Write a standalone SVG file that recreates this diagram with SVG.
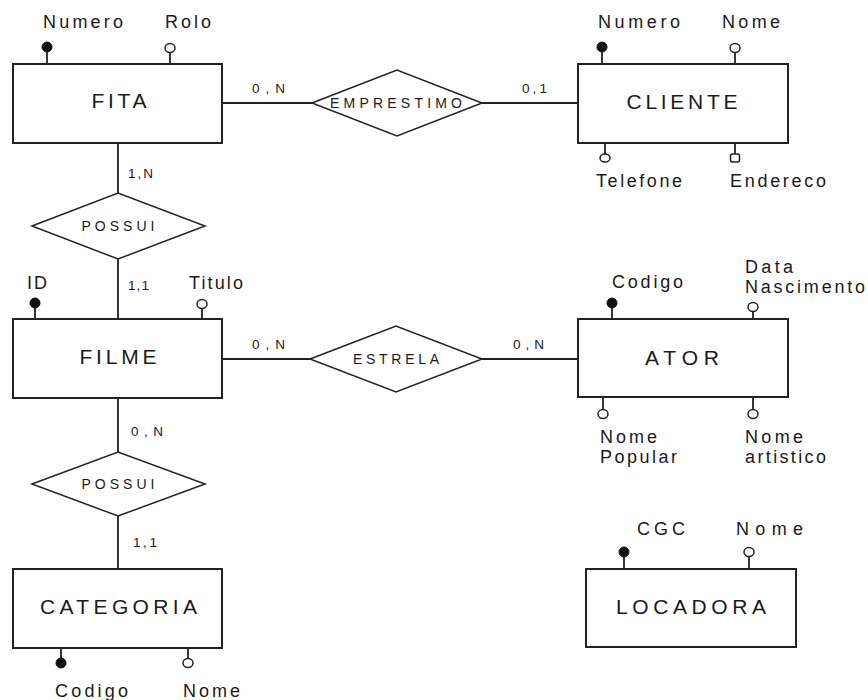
<svg xmlns="http://www.w3.org/2000/svg" width="868" height="700" viewBox="0 0 868 700">
  <style>
    .ent { fill: #fff; stroke: #222; stroke-width: 2; }
    .rel { fill: #fff; stroke: #222; stroke-width: 1.5; }
    .wire { stroke: #222; stroke-width: 1.8; fill: none; }
    .stick { stroke: #222; stroke-width: 1.8; }
    .key { fill: #111; stroke: #111; stroke-width: 1; }
    .opt { fill: #fff; stroke: #222; stroke-width: 1.5; }
    text { font-family: "Liberation Sans", Arial, sans-serif; fill: #1a1a1a; }
    .en { font-size: 21px; text-anchor: middle; }
    .rn { font-size: 14px; text-anchor: middle; }
    .at { font-size: 18px; }
    .cd { font-size: 13.5px; }
  </style>
  <rect width="868" height="700" fill="#fff"/>

  <!-- connectors between entities and relationships -->
  <g id="connectors">
    <line class="wire" x1="222" y1="103" x2="312" y2="103"/>
    <line class="wire" x1="482" y1="103" x2="578" y2="103"/>
    <line class="wire" x1="118" y1="143" x2="118" y2="193"/>
    <line class="wire" x1="118" y1="259" x2="118" y2="319"/>
    <line class="wire" x1="222" y1="359" x2="310" y2="359"/>
    <line class="wire" x1="482" y1="359" x2="578" y2="359"/>
    <line class="wire" x1="118" y1="398" x2="118" y2="452"/>
    <line class="wire" x1="118" y1="516" x2="118" y2="569"/>
    <!-- cardinalities -->
    <text class="cd" x="252" y="93" textLength="33" lengthAdjust="spacing">0,N</text>
    <text class="cd" x="522" y="93" textLength="25" lengthAdjust="spacing">0,1</text>
    <text class="cd" x="128" y="178" textLength="25" lengthAdjust="spacing">1,N</text>
    <text class="cd" x="128" y="290" textLength="21" lengthAdjust="spacing">1,1</text>
    <text class="cd" x="252" y="349" textLength="33" lengthAdjust="spacing">0,N</text>
    <text class="cd" x="513" y="349" textLength="31" lengthAdjust="spacing">0,N</text>
    <text class="cd" x="131" y="436" textLength="32" lengthAdjust="spacing">0,N</text>
    <text class="cd" x="133" y="547" textLength="24" lengthAdjust="spacing">1,1</text>
  </g>

  <!-- FITA -->
  <g id="fita">
    <line class="stick" x1="47" y1="52" x2="47" y2="64"/>
    <circle class="key" cx="47" cy="47" r="5"/>
    <line class="stick" x1="170" y1="53" x2="170" y2="64"/>
    <ellipse class="opt" cx="170" cy="48" rx="5" ry="4.5"/>
    <rect class="ent" x="13" y="64" width="209" height="79"/>
    <text class="en" x="119" y="108" textLength="55" lengthAdjust="spacing">FITA</text>
    <text class="at" x="43" y="28" textLength="80" lengthAdjust="spacing">Numero</text>
    <text class="at" x="165" y="28" textLength="46" lengthAdjust="spacing">Rolo</text>
  </g>

  <!-- EMPRESTIMO -->
  <g id="emprestimo">
    <polygon class="rel" points="312,103 397,70 482,103 397,136"/>
    <text class="rn" x="396" y="108" textLength="132" lengthAdjust="spacing">EMPRESTIMO</text>
  </g>

  <!-- CLIENTE -->
  <g id="cliente">
    <line class="stick" x1="602" y1="52" x2="602" y2="64"/>
    <circle class="key" cx="602" cy="47" r="5"/>
    <line class="stick" x1="735" y1="53" x2="735" y2="64"/>
    <ellipse class="opt" cx="735" cy="48" rx="5" ry="4.5"/>
    <line class="stick" x1="605" y1="143" x2="605" y2="154"/>
    <ellipse class="opt" cx="605" cy="158" rx="5" ry="4"/>
    <line class="stick" x1="735" y1="143" x2="735" y2="154"/>
    <rect class="opt" x="730.5" y="154" width="9" height="8" rx="2"/>
    <rect class="ent" x="578" y="64" width="210" height="79"/>
    <text class="en" x="682" y="109" textLength="111" lengthAdjust="spacing">CLIENTE</text>
    <text class="at" x="598" y="28" textLength="82" lengthAdjust="spacing">Numero</text>
    <text class="at" x="722" y="28" textLength="58" lengthAdjust="spacing">Nome</text>
    <text class="at" x="596" y="187" textLength="86" lengthAdjust="spacing">Telefone</text>
    <text class="at" x="730" y="187" textLength="96" lengthAdjust="spacing">Endereco</text>
  </g>

  <!-- POSSUI (FITA / FILME) -->
  <g id="possui-fita-filme">
    <polygon class="rel" points="32,226 118,193 205,226 118,259"/>
    <text class="rn" x="118" y="231" textLength="73" lengthAdjust="spacing">POSSUI</text>
  </g>

  <!-- FILME -->
  <g id="filme">
    <line class="stick" x1="35" y1="307" x2="35" y2="319"/>
    <circle class="key" cx="35" cy="303" r="5"/>
    <line class="stick" x1="202" y1="308" x2="202" y2="319"/>
    <ellipse class="opt" cx="202" cy="304" rx="5" ry="4.5"/>
    <rect class="ent" x="13" y="319" width="209" height="79"/>
    <text class="en" x="118" y="364" textLength="77" lengthAdjust="spacing">FILME</text>
    <text class="at" x="27" y="289" textLength="20" lengthAdjust="spacing">ID</text>
    <text class="at" x="189" y="289" textLength="54" lengthAdjust="spacing">Titulo</text>
  </g>

  <!-- ESTRELA -->
  <g id="estrela">
    <polygon class="rel" points="310,359 396,326 482,359 396,392"/>
    <text class="rn" x="396" y="364" textLength="86" lengthAdjust="spacing">ESTRELA</text>
  </g>

  <!-- ATOR -->
  <g id="ator">
    <line class="stick" x1="612" y1="307" x2="612" y2="319"/>
    <circle class="key" cx="612" cy="303" r="5"/>
    <line class="stick" x1="753" y1="311" x2="753" y2="321"/>
    <ellipse class="opt" cx="753" cy="307" rx="5" ry="4.5"/>
    <line class="stick" x1="603" y1="397" x2="603" y2="410"/>
    <ellipse class="opt" cx="603" cy="414" rx="5" ry="4.5"/>
    <line class="stick" x1="753" y1="397" x2="753" y2="410"/>
    <ellipse class="opt" cx="753" cy="414" rx="5" ry="4.5"/>
    <rect class="ent" x="578" y="319" width="210" height="78"/>
    <text class="en" x="682" y="365" textLength="74" lengthAdjust="spacing">ATOR</text>
    <text class="at" x="612" y="288" textLength="71" lengthAdjust="spacing">Codigo</text>
    <text class="at" x="745" y="273" textLength="48" lengthAdjust="spacing">Data</text>
    <text class="at" x="745" y="293" textLength="120" lengthAdjust="spacing">Nascimento</text>
    <text class="at" x="600" y="443" textLength="57" lengthAdjust="spacing">Nome</text>
    <text class="at" x="600" y="463" textLength="77" lengthAdjust="spacing">Popular</text>
    <text class="at" x="745" y="443" textLength="58" lengthAdjust="spacing">Nome</text>
    <text class="at" x="745" y="463" textLength="81" lengthAdjust="spacing">artistico</text>
  </g>

  <!-- POSSUI (FILME / CATEGORIA) -->
  <g id="possui-filme-categoria">
    <polygon class="rel" points="32,484 118,452 205,484 118,516"/>
    <text class="rn" x="118" y="489" textLength="73" lengthAdjust="spacing">POSSUI</text>
  </g>

  <!-- CATEGORIA -->
  <g id="categoria">
    <line class="stick" x1="61" y1="648" x2="61" y2="659"/>
    <circle class="key" cx="61" cy="663" r="5"/>
    <line class="stick" x1="188" y1="648" x2="188" y2="659"/>
    <ellipse class="opt" cx="188" cy="663" rx="5" ry="4.5"/>
    <rect class="ent" x="13" y="569" width="209" height="79"/>
    <text class="en" x="118.5" y="614" textLength="157" lengthAdjust="spacing">CATEGORIA</text>
    <text class="at" x="55" y="697" textLength="73" lengthAdjust="spacing">Codigo</text>
    <text class="at" x="183" y="697" textLength="57" lengthAdjust="spacing">Nome</text>
  </g>

  <!-- LOCADORA -->
  <g id="locadora">
    <line class="stick" x1="624" y1="556" x2="624" y2="569"/>
    <circle class="key" cx="624" cy="552" r="5"/>
    <line class="stick" x1="749" y1="557" x2="749" y2="569"/>
    <ellipse class="opt" cx="749" cy="552" rx="5" ry="4.5"/>
    <rect class="ent" x="586" y="569" width="210" height="78"/>
    <text class="en" x="691" y="614" textLength="150" lengthAdjust="spacing">LOCADORA</text>
    <text class="at" x="637" y="535" textLength="48" lengthAdjust="spacing">CGC</text>
    <text class="at" x="736" y="535" textLength="67" lengthAdjust="spacing">Nome</text>
  </g>
</svg>
